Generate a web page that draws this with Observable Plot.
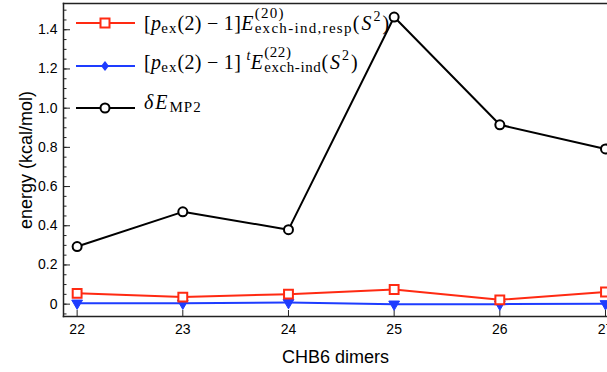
<!DOCTYPE html>
<html>
<head>
<meta charset="utf-8">
<script src="https://cdn.jsdelivr.net/npm/d3@7"></script>
<script src="https://cdn.jsdelivr.net/npm/@observablehq/plot@0.6"></script>
<style>
  html, body { margin: 0; padding: 0; background: white; overflow: hidden; }
  #wrap { position: relative; width: 607px; height: 372px; overflow: hidden; }
  #legend { position: absolute; left: 0; top: 0; width: 607px; height: 0; font-family: "Liberation Serif", "Times New Roman", serif; font-size: 20px; color: #000; }
  .sw { position: absolute; left: 76px; }
  .txt { position: absolute; left: 144px; line-height: 1; white-space: nowrap; letter-spacing: 0.3px; }
  .ss { display: inline-block; vertical-align: -3px; line-height: 1.0; font-size: 15px; margin-left: 1px; letter-spacing: 1.3px; }
  .ss.tight { letter-spacing: 0.6px; }
  .ss span { display: block; }
  .sub1 { font-size: 15px; vertical-align: -3px; letter-spacing: 1px; }
  .sup1 { font-size: 14px; vertical-align: 9px; }
  .wide { letter-spacing: 2px; }
</style>
</head>
<body>
<div id="wrap"><div id="chart"></div><div id="legend"></div></div>
<script>
const dimers = [22, 23, 24, 25, 26, 27];
const exchIndResp = [0.055, 0.036, 0.051, 0.075, 0.022, 0.062];
const exchInd22 = [0.005, 0.005, 0.008, 0.0, 0.0, 0.002];
const deltaMP2 = [0.294, 0.471, 0.380, 1.465, 0.915, 0.792];
const majorTicks = [0, 0.2, 0.4, 0.6, 0.8, 1.0, 1.2, 1.4];
const minorTicks = d3.range(-0.05, 1.52, 0.05);
const xLabel = "CHB6 dimers";
const yLabel = "energy (kcal/mol)";

const red = "#ff2a12", blue = "#1e3cff", black = "#000000";
const rows = (vals) => dimers.map((d, i) => ({dimer: d, value: vals[i]}));
const rResp = rows(exchIndResp), r22 = rows(exchInd22), rMP2 = rows(deltaMP2);

const plot = Plot.plot({
  width: 607, height: 372,
  marginLeft: 63, marginRight: 0, marginTop: 3, marginBottom: 56,
  style: {fontFamily: "'Liberation Sans', Arial, sans-serif", fontSize: "14px", color: "#000", background: "white"},
  x: {type: "linear", domain: [21.871, 27.019]},
  y: {domain: [-0.063, 1.534]},
  marks: [
    Plot.frame({anchor: "left", stroke: "#222", strokeWidth: 1.5}),
    Plot.frame({anchor: "bottom", stroke: "#222", strokeWidth: 1.5}),
    Plot.frame({anchor: "top", stroke: "#222", strokeWidth: 1.5}),
    Plot.axisY(minorTicks, {tickSize: -3.5, tickFormat: () => "", label: null, stroke: "#222"}),
    Plot.axisY(majorTicks, {tickSize: -7, tickPadding: 13, tickFormat: d => d === 0 ? "0" : d.toFixed(1), label: yLabel, labelAnchor: "center", labelArrow: "none", labelOffset: 44, stroke: "#222"}),
    Plot.axisX(dimers, {tickSize: -6, tickPadding: 14, tickFormat: d => String(d), label: xLabel, labelAnchor: "center", labelArrow: "none", labelOffset: 46, stroke: "#222"}),
    Plot.line(rMP2, {x: "dimer", y: "value", stroke: black, strokeWidth: 2}),
    Plot.line(r22, {x: "dimer", y: "value", stroke: blue, strokeWidth: 2}),
    Plot.line(rResp, {x: "dimer", y: "value", stroke: red, strokeWidth: 2}),
    Plot.dot(rMP2, {x: "dimer", y: "value", r: 4.5, fill: "white", stroke: black, strokeWidth: 2}),
    Plot.dot(r22, {x: "dimer", y: "value", r: 4, symbol: "triangle", rotate: 180, fill: blue, stroke: blue, strokeWidth: 1}),
    Plot.dot(rResp, {x: "dimer", y: "value", r: 5, symbol: "square", fill: "white", stroke: red, strokeWidth: 2})
  ]
});
plot.style.overflow = "visible";
document.getElementById("chart").appendChild(plot);

// axis labels: size, and strip any arrow glyphs
plot.querySelectorAll("[aria-label$='axis label'] text").forEach(t => {
  t.setAttribute("font-size", "18");
  t.textContent = t.textContent.replace(/[\u2190-\u2193]/g, "").trim();
});

// Legend
const S2 = `<span class="wide">(<i>S</i><span class="sup1">2</span>)</span>`;
const legendItems = [
  {color: red, marker: "square", lineY: 22.7, top: 5.5,
   html: `[<i>p</i><span class="sub1">ex</span>(2) − 1]<i>E</i><span class="ss"><span>(20)</span><span>exch-ind,resp</span></span>${S2}`},
  {color: blue, marker: "diamond", lineY: 65.7, top: 45.2,
   html: `[<i>p</i><span class="sub1">ex</span>(2) − 1] <span class="sup1"><i>t</i></span><i>E</i><span class="ss tight"><span>(22)</span><span>exch-ind</span></span>${S2}`},
  {color: black, marker: "circle", lineY: 107.7, top: 91.6,
   html: `<i class="wide">δE</i><span class="sub1">MP2</span>`}
];
const leg = document.getElementById("legend");
for (const it of legendItems) {
  let m;
  if (it.marker === "square") m = `<rect x="24.5" y="3.5" width="9" height="9" fill="white" stroke="${it.color}" stroke-width="2"/>`;
  else if (it.marker === "diamond") m = `<path d="M29,3 L33,8 L29,13 L25,8 Z" fill="${it.color}"/>`;
  else m = `<circle cx="29" cy="8" r="4.5" fill="white" stroke="${it.color}" stroke-width="2"/>`;
  const sw = document.createElement("div");
  sw.className = "sw";
  sw.style.top = (it.lineY - 8) + "px";
  sw.innerHTML = `<svg width="60" height="16" style="display:block"><line x1="0" y1="8" x2="59" y2="8" stroke="${it.color}" stroke-width="2"/>${m}</svg>`;
  leg.appendChild(sw);
  const tx = document.createElement("div");
  tx.className = "txt";
  tx.style.top = it.top + "px";
  tx.innerHTML = it.html;
  leg.appendChild(tx);
}
</script>
</body>
</html>
